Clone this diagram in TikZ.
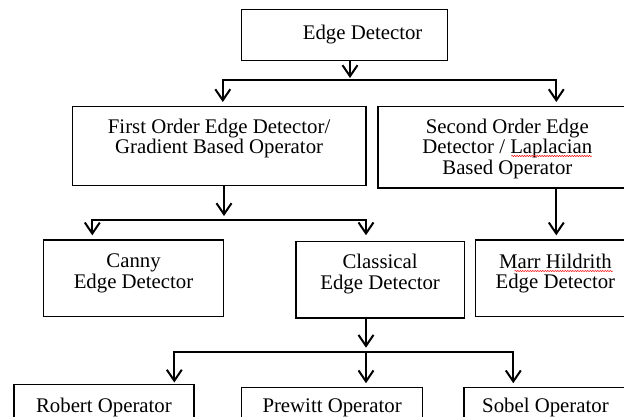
\documentclass[tikz,border=0pt]{standalone}
\usepackage{fontspec}
\setmainfont{Liberation Serif}
\usetikzlibrary{arrows.meta,decorations.pathmorphing}
% #1 name, #2 x, #3 y, #4 width, #5 height, #6 top pad, #7 text
\newcommand\boxnode[7]{%
  \node[boxst] (#1) at (#2,#3) {\parbox[c][#5pt][t]{#4pt}{\centering\vspace*{#6pt}\rule{0pt}{14pt}#7\par}};}
\begin{document}
\begin{tikzpicture}[x=1pt,y=-1pt,
  boxst/.style={draw=black, line width=1.3pt, inner sep=0pt, anchor=north west,
    font=\fontsize{20.8}{20.5}\selectfont},
  con/.style={line width=2pt, line cap=rect},
  arr/.style={line width=2pt, -{Straight Barb[length=11pt,width=15pt]}},
  squig/.style={red, line width=0.5pt, decorate,
    decoration={snake, amplitude=0.6pt, segment length=2.5pt}}]
\useasboundingbox (0,0) rectangle (624,416);
\clip (0,0) rectangle (624,416);
\fill[white] (0,0) rectangle (624,416);

\boxnode{top}{241}{9}{206}{51}{15}{\hspace*{36pt}Edge Detector}
\boxnode{first}{71.6}{106}{293.7}{78.7}{12}{First Order Edge Detector/\\Gradient Based Operator}
\boxnode{second}{377.2}{106}{259}{81.3}{12}{Second Order Edge\\Detector / Laplacian\\Based Operator}
\boxnode{canny}{43}{239.3}{179.8}{76.7}{14}{Canny\\Edge Detector}
\boxnode{classical}{295.3}{240.7}{168.3}{76.6}{13}{Classical\\Edge Detector}
\boxnode{marr}{474.7}{239.3}{160}{76.7}{14}{Marr Hildrith\\Edge Detector}
\boxnode{robert}{13.3}{384}{180}{60}{13}{Robert Operator}
\boxnode{prewitt}{241.1}{386.7}{180.7}{60}{11}{Prewitt Operator}
\boxnode{sobel}{463.3}{386.7}{163}{60}{11}{Sobel Operator}

% level 1
\coordinate (j1) at (350,80);
\coordinate (b1l) at (222.8,80);
\coordinate (b1r) at (556.3,80);
\draw[arr, shorten >=2pt] (top.south -| j1) -- (j1);
\draw[con] (b1l) -- (b1r);
\draw[arr, shorten >=4pt] (b1l) -- (first.north -| b1l);
\draw[arr, shorten >=4pt] (b1r) -- (second.north -| b1r);

% level 2
\coordinate (j2) at (224,220);
\coordinate (b2l) at (92.3,220);
\coordinate (b2r) at (366,220);
\draw[arr, shorten >=4pt] (first.south -| j2) -- (j2);
\draw[con] (b2l) -- (b2r);
\draw[arr, shorten >=4pt] (b2l) -- (canny.north -| b2l);
\draw[arr, shorten >=5.5pt] (b2r) -- (classical.north -| b2r);
\draw[arr, shorten >=4pt] (second.south -| b1r) -- (marr.north -| b1r);

% level 3
\coordinate (j3) at (366,351.7);
\coordinate (b3l) at (174.3,351.7);
\coordinate (b3r) at (513.3,351.7);
\draw[arr, shorten >=4pt] (classical.south -| j3) -- (j3);
\draw[con] (b3l) -- (b3r);
\draw[arr, shorten >=1.5pt] (b3l) -- (robert.north -| b3l);
\draw[arr, shorten >=3.5pt] (j3) -- (prewitt.north -| j3);
\draw[arr, shorten >=3.5pt] (b3r) -- (sobel.north -| b3r);

% spell-check marks
\draw[squig] (511.3,156) -- (591.7,156);
\draw[squig] (514.5,271) -- (612.8,271);
\end{tikzpicture}
\end{document}
